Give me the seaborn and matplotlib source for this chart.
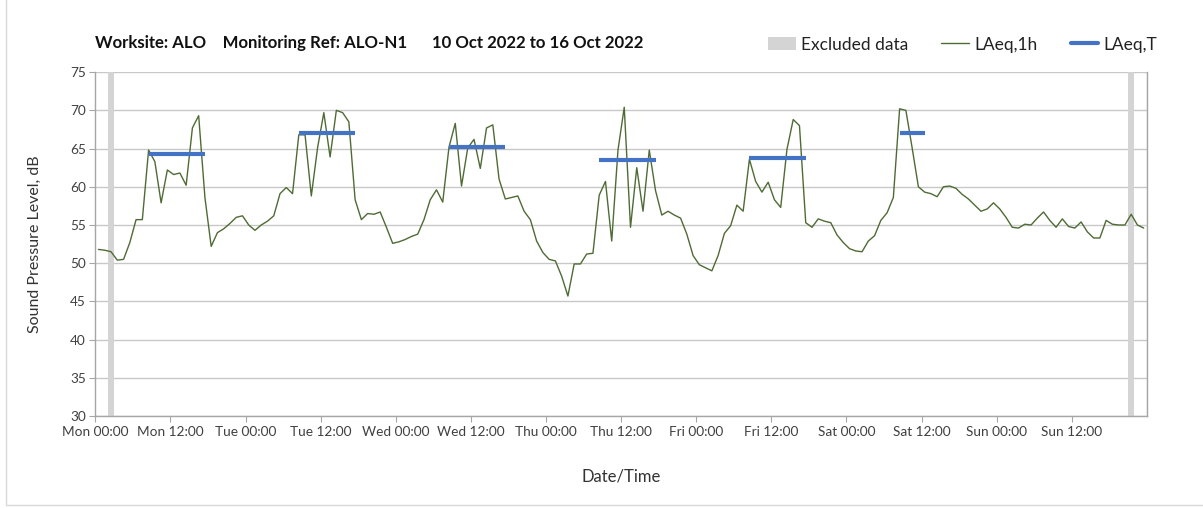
import numpy as np
import pandas as pd
import matplotlib
matplotlib.use("Agg")
import matplotlib.pyplot as plt
import matplotlib.dates as mdates
from matplotlib.patches import Patch, Rectangle
from matplotlib.lines import Line2D
import seaborn as sns

# Hourly LAeq,1h values (dB), Mon 10 Oct 2022 00:00 through Sun 16 Oct 2022 23:00
laeq_1h = [
    51.8, 51.7, 51.5, 50.4, 50.5, 52.7, 55.7, 55.7, 64.8, 63.3, 57.9, 62.2,
    61.6, 61.8, 60.2, 67.7, 69.3, 58.6, 52.2, 54.0, 54.5, 55.2, 56.0, 56.2,
    55.0, 54.3, 55.0, 55.5, 56.2, 59.1, 59.9, 59.1, 66.8, 66.8, 58.8, 65.1,
    69.7, 63.9, 70.0, 69.7, 68.5, 58.3, 55.7, 56.5, 56.4, 56.7, 54.7, 52.6,
    52.8, 53.1, 53.5, 53.8, 55.7, 58.3, 59.6, 58.0, 65.2, 68.3, 60.1, 65.1,
    66.2, 62.4, 67.7, 68.1, 61.0, 58.4, 58.6, 58.8, 56.8, 55.7, 52.9, 51.4,
    50.5, 50.3, 48.3, 45.7, 49.9, 49.9, 51.2, 51.3, 58.9, 60.7, 52.9, 64.8,
    70.4, 54.7, 62.5, 56.8, 64.8, 59.5, 56.3, 56.8, 56.3, 55.9, 53.8, 51.0,
    49.8, 49.4, 49.0, 51.0, 53.9, 54.9, 57.6, 56.8, 63.6, 60.7, 59.3, 60.6,
    58.3, 57.3, 64.9, 68.8, 68.0, 55.3, 54.7, 55.8, 55.5, 55.3, 53.7, 52.7,
    51.9, 51.6, 51.5, 52.9, 53.6, 55.6, 56.6, 58.6, 70.2, 70.0, 65.1, 60.0,
    59.3, 59.1, 58.7, 60.0, 60.1, 59.8, 59.0, 58.4, 57.6, 56.8, 57.1, 57.9,
    57.1, 56.0, 54.7, 54.6, 55.1, 55.0, 55.9, 56.7, 55.6, 54.7, 55.8, 54.8,
    54.6, 55.4, 54.1, 53.3, 53.3, 55.6, 55.1, 55.0, 55.0, 56.4, 55.0, 54.6,
]

# Daytime LAeq,T periods
laeq_t_start = ["2022-10-10 08:30", "2022-10-11 08:30", "2022-10-12 08:30",
                "2022-10-13 08:30", "2022-10-14 08:30", "2022-10-15 08:30"]
laeq_t_end = ["2022-10-10 17:30", "2022-10-11 17:30", "2022-10-12 17:30",
              "2022-10-13 17:30", "2022-10-14 17:30", "2022-10-15 12:30"]
laeq_t = [64.3, 67.1, 65.2, 63.5, 63.8, 67.1]

# Excluded periods
excluded_start = ["2022-10-10 02:00", "2022-10-16 21:00"]
excluded_end = ["2022-10-10 03:00", "2022-10-16 22:00"]

title_text = ("Worksite: ALO    Monitoring Ref: ALO-N1      "
              "10 Oct 2022 to 16 Oct 2022")

GREEN = "#4f6b34"
BLUE = "#4472c4"
EXCL = "#d4d4d4"

sns.set_theme(style="white")
plt.rcParams["font.family"] = ["Lato", "DejaVu Sans"]

df = pd.DataFrame({
    "time": pd.date_range("2022-10-10 00:30", periods=len(laeq_1h), freq="h"),
    "level": laeq_1h,
})

fig = plt.figure(figsize=(12.03, 5.08), dpi=100)
ax = fig.add_axes([0.0793, 0.181, 0.874, 0.677])

# Excluded-data bands
for s, e in zip(excluded_start, excluded_end):
    ax.axvspan(pd.Timestamp(s), pd.Timestamp(e), color=EXCL, lw=0, zorder=1)

sns.lineplot(data=df, x="time", y="level", ax=ax, color=GREEN, lw=1.0,
             zorder=3, legend=False)

ax.hlines(laeq_t, pd.to_datetime(laeq_t_start), pd.to_datetime(laeq_t_end),
          color=BLUE, lw=3.0, zorder=4)

ax.set_xlim(pd.Timestamp("2022-10-10 00:00"), pd.Timestamp("2022-10-17 00:00"))
ax.set_ylim(30, 75)
ax.set_yticks(np.arange(30, 76, 5))

ax.xaxis.set_major_locator(mdates.HourLocator(byhour=[0, 12]))
ax.xaxis.set_major_formatter(mdates.DateFormatter("%a %H:%M"))
ax.xaxis.set_minor_locator(mdates.DayLocator())

xt = ax.get_xticks()
ax.set_xticks(xt[:-1])

# Grid: horizontal at every 5 dB, vertical at midnight only
ax.grid(False)
ax.yaxis.grid(True, color="#c8c8c8", lw=1.0, zorder=0)
ax.xaxis.grid(True, which="minor", color="#dcdcdc", lw=1.0, zorder=0)

for side in ["left", "bottom", "right"]:
    ax.spines[side].set_visible(True)
    ax.spines[side].set_color("#a6a6a6")
    ax.spines[side].set_linewidth(1.0)
ax.spines["top"].set_visible(False)

ax.tick_params(axis="both", which="major", direction="out", length=4,
               width=0.8, color="#a6a6a6", labelsize=9.8, labelcolor="#404040",
               bottom=True, left=True, pad=3)
ax.tick_params(axis="x", which="minor", length=0)

ax.set_xlabel("Date/Time", fontsize=12, color="#333333", labelpad=22)
ax.set_ylabel("Sound Pressure Level, dB", fontsize=11.5, color="#333333",
              labelpad=20)

fig.text(0.079, 0.916, title_text, fontsize=12.1, fontweight="bold",
         color="#111111", va="center", ha="left")

handles = [
    Patch(facecolor=EXCL, edgecolor="none", label="Excluded data"),
    Line2D([], [], color=GREEN, lw=1.0, label="LAeq,1h"),
    Line2D([], [], color=BLUE, lw=3.0, label="LAeq,T"),
]
fig.legend(handles=handles, loc="center right", bbox_to_anchor=(0.975, 0.912),
           ncol=3, frameon=False, fontsize=12.5, handlelength=1.6,
           handleheight=0.8, columnspacing=1.9, handletextpad=0.3,
           labelcolor="#222222")

# Outer chart frame
fig.patches.append(Rectangle((0.005, 0.006), 1.2, 1.2, transform=fig.transFigure,
                             fill=False, edgecolor="#d9d9d9", lw=1.0))

fig.savefig("out.png", dpi=100)
